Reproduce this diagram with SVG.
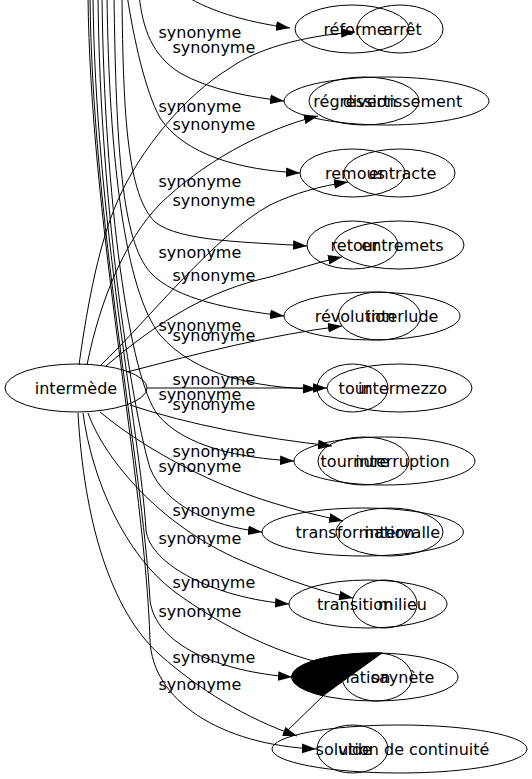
<svg xmlns="http://www.w3.org/2000/svg" width="532" height="779" viewBox="0 0 532 779">
<style>
.n ellipse{fill:none;stroke:#000;stroke-width:1}
text{font-family:"DejaVu Sans","Noto Sans",sans-serif;font-size:16px;fill:#000}
.n text{text-anchor:middle}
.e path{fill:none;stroke:#000;stroke-width:1}
.e path.a{marker-end:url(#ah)}
.lb text{text-anchor:start}
</style>
<defs>
<marker id="ah" markerUnits="userSpaceOnUse" markerWidth="14" markerHeight="10" viewBox="0 0 13 9" refX="13" refY="4.5" orient="auto"><path d="M0,0 L13,4.5 L0,9 Z" fill="#000"/></marker>
</defs>
<rect width="532" height="779" fill="#fff"/>
<g class="e" id="connectors">
<!-- from intermède -->
<path class="a" d="M79,365 C88,300 100,240 118,200 C140,150 185,95 230,68 C255,50 300,36 355,32"/>
<path class="a" d="M87,365 C100,300 125,240 160,204 C200,165 260,130 318,116"/>
<path class="a" d="M100,366 C150,318 215,235 270,205 C295,193 320,186 348,182"/>
<path class="a" d="M106,366 C160,320 210,290 270,277 C295,270 318,262 342,257"/>
<path class="a" d="M127,372 C200,353 270,335 342,326"/>
<path class="a" d="M147,388 L327,388"/>
<path class="a" d="M130,405 C190,425 260,438 332,446"/>
<path class="a" d="M100,412 C140,445 200,480 270,502 C295,510 320,516 343,521"/>
<path class="a" d="M88,413 C105,460 160,525 240,560 C280,577 320,592 353,598"/>
<path d="M83,413 C92,480 125,555 175,592 C220,625 280,657 345,668"/>
<path class="a" d="M78,413 C84,520 110,610 160,655 C200,690 245,718 297,736"/>
<!-- from above -->
<path class="a" d="M180,-8 C205,10 245,22 290,28"/>
<path class="a" d="M139,-5 C143,30 152,55 180,73 C210,90 250,97 284,101"/>
<path class="a" d="M127,-5 C134,40 145,90 160,118 C185,155 240,170 300,173"/>
<path class="a" d="M122,-5 C123,120 128,195 155,222 C180,242 250,242 307,246"/>
<path class="a" d="M114,-5 C116,150 122,240 150,272 C175,300 235,310 284,316"/>
<path class="a" d="M107,-5 C109,160 125,290 160,335 C195,375 255,388 317,389"/>
<path class="a" d="M102,-5 C104,200 130,380 158,415 C185,447 240,458 294,461"/>
<path class="a" d="M98,-5 C100,220 135,420 150,468 C165,505 210,526 262,532"/>
<path class="a" d="M93,-5 C95,220 140,430 146,530 C150,565 215,598 289,604"/>
<path class="a" d="M90,-5 C92,220 142,460 150,600 C155,645 220,672 292,677"/>
<path class="a" d="M88,-5 C90,220 145,480 150,640 C152,700 220,745 316,749"/>
<path d="M382,653 A83,24 0 0,0 323,695.7 Z" fill="#000" style="fill:#000"/>
<path d="M323,696 L288,730"/>
</g>
<g class="lb" id="labels">
<text x="158.5" y="38">synonyme</text>
<text x="158.5" y="112">synonyme</text>
<text x="158.5" y="187">synonyme</text>
<text x="158.5" y="258">synonyme</text>
<text x="158.5" y="331">synonyme</text>
<text x="158.5" y="400">synonyme</text>
<text x="158.5" y="472">synonyme</text>
<text x="158.5" y="544">synonyme</text>
<text x="158.5" y="617">synonyme</text>
<text x="158.5" y="690">synonyme</text>
<text x="172.5" y="53">synonyme</text>
<text x="172.5" y="130">synonyme</text>
<text x="172.5" y="206">synonyme</text>
<text x="172.5" y="281">synonyme</text>
<text x="172.5" y="341">synonyme</text>
<text x="172.5" y="385">synonyme</text>
<text x="172.5" y="410">synonyme</text>
<text x="172.5" y="457">synonyme</text>
<text x="172.5" y="516">synonyme</text>
<text x="172.5" y="588">synonyme</text>
<text x="172.5" y="663">synonyme</text>
</g>
<g class="n" id="intermede"><ellipse cx="76" cy="388" rx="71" ry="24"/><text x="76" y="394">intermède</text></g>
<g class="n" id="reforme"><ellipse cx="352" cy="29" rx="57" ry="24"/><text x="355" y="35">réforme</text></g>
<g class="n" id="arret"><ellipse cx="400" cy="29" rx="43" ry="24"/><text x="402.5" y="35">arrêt</text></g>
<g class="n" id="regression"><ellipse cx="364" cy="101" rx="55" ry="24"/><text x="355" y="107">régression</text></g>
<g class="n" id="divertissement"><ellipse cx="386.5" cy="101" rx="102.5" ry="24"/><text x="402.5" y="107">divertissement</text></g>
<g class="n" id="remous"><ellipse cx="352.5" cy="173" rx="52.5" ry="24"/><text x="355" y="179">remous</text></g>
<g class="n" id="entracte"><ellipse cx="399.5" cy="173" rx="55.5" ry="24"/><text x="402.5" y="179">entracte</text></g>
<g class="n" id="retour"><ellipse cx="352.5" cy="245" rx="45.5" ry="24"/><text x="355" y="251">retour</text></g>
<g class="n" id="entremets"><ellipse cx="399" cy="245" rx="65" ry="24"/><text x="402.5" y="251">entremets</text></g>
<g class="n" id="revolution"><ellipse cx="372" cy="316" rx="88" ry="24"/><text x="355" y="322">révolution</text></g>
<g class="n" id="interlude"><ellipse cx="379.5" cy="316" rx="41" ry="24"/><text x="402.5" y="322">interlude</text></g>
<g class="n" id="tour"><ellipse cx="352.5" cy="388" rx="35.5" ry="24"/><text x="355" y="394">tour</text></g>
<g class="n" id="intermezzo"><ellipse cx="399.5" cy="388" rx="72.5" ry="24"/><text x="402.5" y="394">intermezzo</text></g>
<g class="n" id="tournure"><ellipse cx="384.5" cy="461" rx="90.5" ry="24"/><text x="355" y="467">tournure</text></g>
<g class="n" id="interruption"><ellipse cx="363.5" cy="461" rx="45.5" ry="24"/><text x="402.5" y="467">interruption</text></g>
<g class="n" id="transformation"><ellipse cx="362.7" cy="532" rx="100.7" ry="24"/><text x="355" y="538">transformation</text></g>
<g class="n" id="intervalle"><ellipse cx="389.5" cy="532" rx="53.5" ry="24"/><text x="402.5" y="538">intervalle</text></g>
<g class="n" id="transition"><ellipse cx="368" cy="604" rx="79" ry="24"/><text x="355" y="610">transition</text></g>
<g class="n" id="milieu"><ellipse cx="384.5" cy="604" rx="32.5" ry="24"/><text x="402.5" y="610">milieu</text></g>
<g class="n" id="variation"><ellipse cx="375" cy="677" rx="83" ry="24"/><text x="355" y="683">variation</text></g>
<g class="n" id="saynete"><ellipse cx="377" cy="677" rx="35" ry="24"/><text x="402.5" y="683">saynète</text></g>
<g class="n" id="vide"><ellipse cx="352.5" cy="749" rx="35.5" ry="24"/><text x="355" y="755">vide</text></g>
<g class="n" id="solution"><ellipse cx="399.5" cy="749" rx="127.5" ry="24"/><text x="402.5" y="755">solution de continuité</text></g>
</svg>
